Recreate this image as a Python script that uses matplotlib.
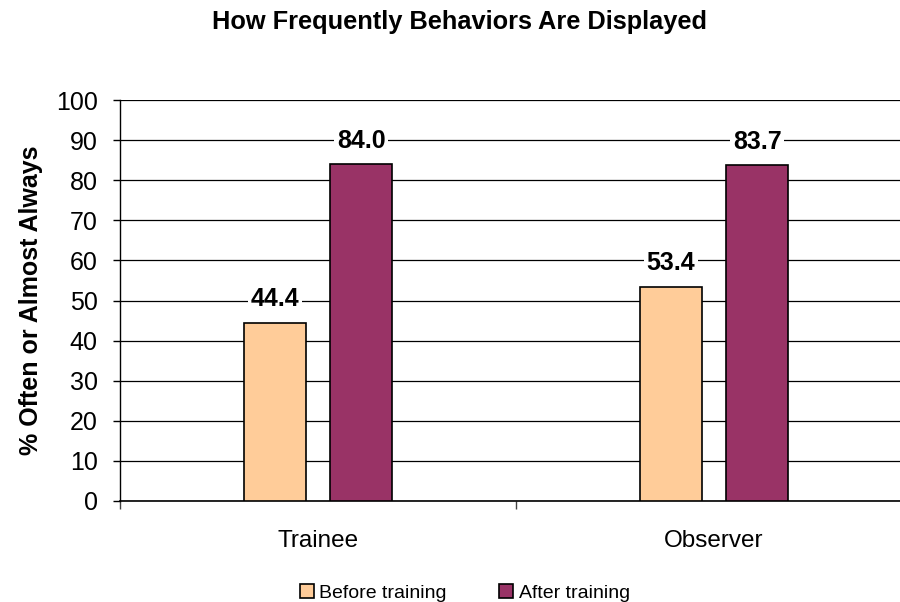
import matplotlib.pyplot as plt
import numpy as np

plt.rcParams["font.family"] = ["Liberation Sans", "DejaVu Sans"]

categories = ["Trainee", "Observer"]
series_names = ["Before training", "After training"]
before = [44.4, 53.4]
after = [84.0, 83.7]
colors = ["#FFCC99", "#993366"]

fig = plt.figure(figsize=(9, 6.02), dpi=100)
ax = fig.add_axes([120 / 900, 1 - 501 / 602, 792 / 900, 401 / 602])

x = np.arange(len(categories))
width = 0.157
offset = 0.109

for vals, dx, color, name in zip([before, after], [-offset, offset], colors, series_names):
    bars = ax.bar(x + dx, vals, width, color=color, edgecolor="black",
                  linewidth=1.2, label=name, zorder=3)
    for b, v in zip(bars, vals):
        ax.annotate(f"{v:.1f}", (b.get_x() + b.get_width() / 2, v),
                    xytext=(0, 17), textcoords="offset points",
                    ha="center", va="center", fontsize=18, fontweight="bold",
                    bbox=dict(facecolor="white", edgecolor="none", pad=2),
                    zorder=4)

ax.set_xlim(-0.5, 1.5)
ax.set_ylim(0, 100)
ax.set_yticks(np.arange(0, 101, 10))
ax.yaxis.grid(True, color="black", linewidth=0.9, zorder=0)
ax.set_axisbelow(True)

ax.set_xticks(x)
ax.set_xticklabels(categories, fontsize=17.5)
ax.set_xticks([-0.5, 0.5, 1.5], minor=True)
ax.tick_params(axis="x", which="major", length=0, pad=21)
ax.tick_params(axis="x", which="minor", length=6, width=1, color="#444444")
ax.tick_params(axis="y", length=5, width=1, labelsize=18, pad=11)

for side in ["top", "right"]:
    ax.spines[side].set_visible(False)
ax.spines["left"].set_linewidth(1)
ax.spines["bottom"].set_linewidth(1.2)

ax.set_ylabel("% Often or Almost Always", fontsize=18, fontweight="bold", labelpad=9)
fig.text(459 / 900, 1 - 22 / 602, "How Frequently Behaviors Are Displayed",
         ha="center", va="center", fontsize=18.3, fontweight="bold")

fig.legend(loc="center", bbox_to_anchor=(465 / 900, 1 - 593 / 602), ncol=2,
           frameon=False, fontsize=14, handlelength=0.7, handleheight=0.7,
           handletextpad=0.3, columnspacing=2.7)

fig.savefig("out.png", dpi=100)
